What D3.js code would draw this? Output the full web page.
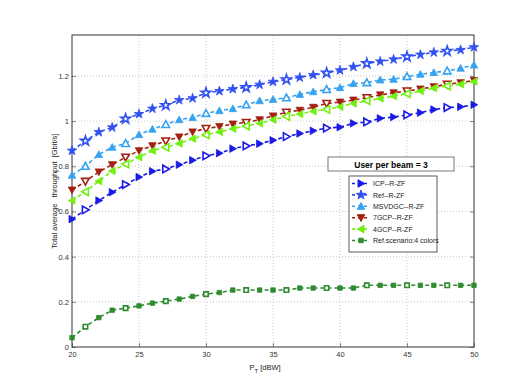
<!DOCTYPE html>
<html>
<head>
<meta charset="utf-8">
<script src="https://cdn.jsdelivr.net/npm/d3@7"></script>
<style>
  body { margin: 0; background: #fff; }
  svg text { font-family: "Liberation Sans Narrow", "Liberation Sans", Arial, sans-serif; }
</style>
</head>
<body>
<script>
// x values: transmit power in dBW
var power = d3.range(20, 51)

var icp = [0.566,0.607,0.648,0.685,0.719,0.752,0.778,0.788,0.807,0.827,0.846,0.858,0.878,0.890,0.900,0.915,
  0.931,0.945,0.957,0.969,0.973,0.990,0.996,1.012,1.018,1.027,1.037,1.051,1.060,1.063,1.072]
var ref = [0.869,0.912,0.951,0.972,1.010,1.031,1.055,1.070,1.093,1.101,1.125,1.133,1.142,1.149,1.161,1.174,
  1.184,1.193,1.204,1.213,1.225,1.240,1.255,1.264,1.273,1.285,1.294,1.304,1.310,1.315,1.327]
var msvdgc = [0.760,0.800,0.852,0.884,0.901,0.940,0.964,0.985,1.006,1.016,1.034,1.046,1.055,1.072,1.090,1.096,
  1.103,1.118,1.130,1.140,1.148,1.166,1.170,1.182,1.185,1.197,1.207,1.215,1.222,1.234,1.248]
var gcp7 = [0.695,0.733,0.775,0.807,0.840,0.869,0.891,0.912,0.930,0.952,0.967,0.976,0.987,0.994,1.006,1.023,
  1.039,1.048,1.061,1.078,1.084,1.093,1.103,1.116,1.125,1.133,1.142,1.152,1.163,1.170,1.180]
var gcp4 = [0.648,0.687,0.734,0.779,0.810,0.840,0.869,0.884,0.901,0.922,0.939,0.952,0.966,0.978,0.990,1.006,
  1.021,1.031,1.043,1.052,1.063,1.078,1.090,1.100,1.110,1.121,1.133,1.146,1.155,1.163,1.175]
var refScen = [0.041,0.090,0.130,0.163,0.172,0.182,0.194,0.203,0.212,0.224,0.234,0.241,0.252,0.252,0.252,0.252,
  0.252,0.261,0.261,0.261,0.261,0.261,0.273,0.273,0.273,0.273,0.273,0.273,0.273,0.273,0.273]

var seriesNames = ["ICP--R-ZF", "Ref--R-ZF", "MSVDGC--R-ZF", "7GCP--R-ZF", "4GCP--R-ZF", "Ref.scenario:4 colors"]
var seriesColors = ["#1a1ae6", "#3050f0", "#36a2f0", "#a32010", "#72f012", "#2e8b2e"]
var seriesShapes = ["right", "star", "up", "down", "left", "square"]
var seriesData = [icp, ref, msvdgc, gcp7, gcp4, refScen]

var xTicks = [20, 25, 30, 35, 40, 45, 50]
var yTicks = [0, 0.2, 0.4, 0.6, 0.8, 1, 1.2]

var width = 518, height = 382
var margin = {top: 35, right: 44, bottom: 35, left: 72}

var svg = d3.select("body").append("svg")
    .attr("width", width)
    .attr("height", height)

var x_scale = d3.scaleLinear()
    .domain([20, 50])
    .range([margin.left, width - margin.right])

var y_scale = d3.scaleLinear()
    .domain([0, 1.381])
    .range([height - margin.bottom, margin.top])

// grid lines
svg.append("g")
  .selectAll("line")
  .data(xTicks.slice(1, -1))
  .enter().append("line")
    .attr("x1", d => x_scale(d)).attr("x2", d => x_scale(d))
    .attr("y1", margin.top).attr("y2", height - margin.bottom)
    .attr("stroke", "#bbb").attr("stroke-width", 0.8).attr("stroke-dasharray", "1,2")
svg.append("g")
  .selectAll("line")
  .data(yTicks.slice(1))
  .enter().append("line")
    .attr("y1", d => y_scale(d)).attr("y2", d => y_scale(d))
    .attr("x1", margin.left).attr("x2", width - margin.right)
    .attr("stroke", "#bbb").attr("stroke-width", 0.8).attr("stroke-dasharray", "1,2")

// axes
var xAxis = d3.axisBottom(x_scale).tickValues(xTicks).tickSize(-4).tickPadding(5).tickFormat(d3.format("d"))
var yAxis = d3.axisLeft(y_scale).tickValues(yTicks).tickSize(-4).tickPadding(3).tickFormat(d => d)

var gX = svg.append("g")
    .attr("transform", "translate(0," + (height - margin.bottom) + ")")
    .call(xAxis)
var gY = svg.append("g")
    .attr("transform", "translate(" + margin.left + ",0)")
    .call(yAxis)
gX.select(".domain").remove()
gY.select(".domain").remove()
svg.selectAll(".tick line").attr("stroke", "#555").attr("stroke-width", 0.7)
svg.selectAll(".tick text").attr("font-size", 7.5).attr("fill", "#333")

// right side ticks too
svg.append("g")
  .attr("transform", "translate(" + (width - margin.right) + ",0)")
  .call(d3.axisRight(y_scale).tickValues(yTicks).tickSize(-4).tickFormat(""))
  .call(g => g.select(".domain").remove())
  .selectAll("line").attr("stroke", "#555").attr("stroke-width", 0.7)

// box
svg.append("rect")
    .attr("x", margin.left).attr("y", margin.top)
    .attr("width", width - margin.left - margin.right)
    .attr("height", height - margin.top - margin.bottom)
    .attr("fill", "none").attr("stroke", "#333").attr("stroke-width", 1)

// marker shapes
function markerPath(shape, s) {
  if (shape == "star") return d3.symbol().type(d3.symbolStar).size(s * s * 0.5)()
  if (shape == "square") return d3.symbol().type(d3.symbolSquare).size(s * s * 0.35)()
  var r = s / 2
  if (shape == "up") return "M0," + (-r) + "L" + r + "," + (r * 0.8) + "L" + (-r) + "," + (r * 0.8) + "Z"
  if (shape == "down") return "M0," + r + "L" + r + "," + (-r * 0.8) + "L" + (-r) + "," + (-r * 0.8) + "Z"
  if (shape == "right") return "M" + r + ",0L" + (-r * 0.8) + "," + r + "L" + (-r * 0.8) + "," + (-r) + "Z"
  if (shape == "left") return "M" + (-r) + ",0L" + (r * 0.8) + "," + r + "L" + (r * 0.8) + "," + (-r) + "Z"
}

var line = d3.line()
    .x((d, i) => x_scale(power[i]))
    .y(d => y_scale(d))

seriesData.forEach(function(vals, k) {
  var g = svg.append("g")
  g.append("path")
    .datum(vals)
    .attr("d", line)
    .attr("fill", "none")
    .attr("stroke", seriesColors[k])
    .attr("stroke-width", 1.6)
    .attr("stroke-dasharray", "4,3")
  g.selectAll("path.m")
    .data(vals)
    .enter().append("path")
    .attr("class", "m")
    .attr("transform", (d, i) => "translate(" + x_scale(power[i]) + "," + y_scale(d) + ")")
    .attr("d", markerPath(seriesShapes[k], 7.5))
    // some markers drawn hollow, like the overlaid plot in the original
    .attr("fill", (d, i) => (i % 3 == 1) ? "#fff" : seriesColors[k])
    .attr("stroke", seriesColors[k])
    .attr("stroke-width", (d, i) => (i % 3 == 1) ? 1.6 : 0.8)
})

// title box
svg.append("rect")
    .attr("x", 328).attr("y", 157).attr("width", 126).attr("height", 14)
    .attr("fill", "#fff").attr("stroke", "#555").attr("stroke-width", 0.8)
svg.append("text")
    .attr("x", 391).attr("y", 167.5)
    .attr("text-anchor", "middle")
    .attr("font-size", 8.5).attr("font-weight", "bold")
    .text("User per beam = 3")

// legend
var legend = svg.append("g")
legend.append("rect")
    .attr("x", 349).attr("y", 176).attr("width", 88).attr("height", 76)
    .attr("fill", "#fff").attr("stroke", "#333").attr("stroke-width", 0.8)

seriesNames.forEach(function(name, k) {
  var yy = 183.5 + k * 11.4
  legend.append("line")
    .attr("x1", 352).attr("x2", 370).attr("y1", yy).attr("y2", yy)
    .attr("stroke", seriesColors[k]).attr("stroke-width", 1.6).attr("stroke-dasharray", "3,3")
  legend.append("path")
    .attr("transform", "translate(361," + yy + ")")
    .attr("d", markerPath(seriesShapes[k], 7.5))
    .attr("fill", seriesColors[k]).attr("stroke", seriesColors[k])
  legend.append("text")
    .attr("x", 373).attr("y", yy + 2.6)
    .attr("font-size", 7).attr("fill", "#222")
    .text(name)
})

// axis titles
var xl = svg.append("text")
    .attr("x", x_scale(35) - 8).attr("y", 370)
    .attr("text-anchor", "middle")
    .attr("font-size", 7.5).attr("fill", "#222")
xl.append("tspan").text("P")
xl.append("tspan").attr("dy", 3).attr("font-size", 6).text("T")
xl.append("tspan").attr("dy", -3).text(" [dBW]")

svg.append("text")
    .attr("transform", "translate(57," + y_scale(0.69) + ") rotate(-90)")
    .attr("text-anchor", "middle")
    .attr("font-size", 7.5).attr("fill", "#222")
    .attr("xml:space", "preserve")
    .text("Total average   throughput  [Gbit/s]")
</script>
</body>
</html>
